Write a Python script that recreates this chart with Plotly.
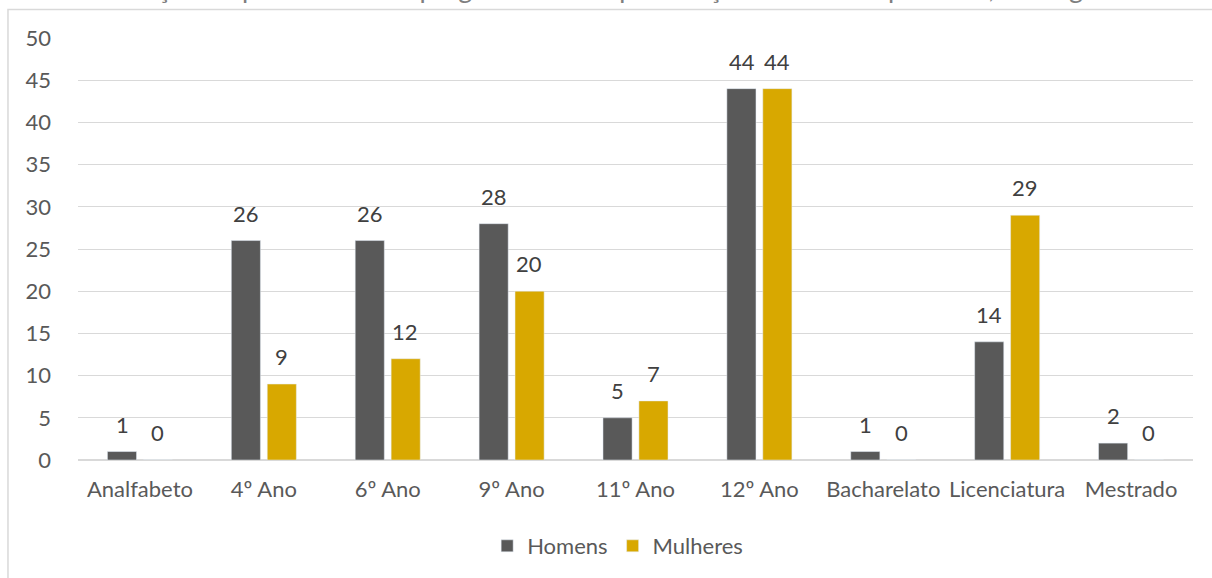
import plotly.graph_objects as go

categories = ["Analfabeto", "4º Ano", "6º Ano", "9º Ano", "11º Ano", "12º Ano",
              "Bacharelato", "Licenciatura", "Mestrado"]
homens = [1, 26, 26, 28, 5, 44, 1, 14, 2]
mulheres = [0, 9, 12, 20, 7, 44, 0, 29, 0]
y_ticks = [0, 5, 10, 15, 20, 25, 30, 35, 40, 45, 50]
title_text = "Distribuição de pessoas desempregadas com a qualificação académica por sexo, é a seguinte"

FONT = "Lato"
TXT = "#595959"
FS = 22

fig = go.Figure()
fig.add_trace(go.Bar(x=categories, y=homens, name="Homens", marker_color="#595959"))
fig.add_trace(go.Bar(x=categories, y=mulheres, name="Mulheres", marker_color="#D8A800"))

# data labels
for vals, shift in ((homens, -17.75), (mulheres, 17.75)):
    for c, v in zip(categories, vals):
        fig.add_annotation(x=c, y=v, xref="x", yref="y", text=str(v), showarrow=False,
                           xshift=shift, yshift=12, yanchor="bottom",
                           font=dict(size=FS, color="#404040", family=FONT))

fig.update_layout(
    width=1212, height=578,
    margin=dict(l=78, r=19, t=38, b=117),
    paper_bgcolor="white", plot_bgcolor="white",
    barmode="group", bargap=0.42, bargroupgap=0.19,
    font=dict(family=FONT, size=FS, color=TXT),
    showlegend=True,
    legend=dict(orientation="h", x=0.484, xanchor="center", y=-0.201, yanchor="middle",
                font=dict(size=FS, color=TXT), itemwidth=30, traceorder="normal"),
)
fig.update_yaxes(range=[0, 50], tickvals=y_ticks, showgrid=True, gridcolor="#D9D9D9",
                 gridwidth=1, zeroline=True, zerolinecolor="#D9D9D9", zerolinewidth=1.5,
                 showline=False, ticks="", ticklabelstandoff=26,
                 tickfont=dict(size=FS, color=TXT, family=FONT))
fig.update_xaxes(showgrid=False, showline=False, ticks="", ticklabelstandoff=14,
                 tickfont=dict(size=FS, color=TXT, family=FONT))

# chart frame (extends beyond bottom/right of the view)
fig.add_shape(type="rect", xref="paper", yref="paper", x0=-0.0628, x1=1.2,
              y0=-0.6, y1=1.0674, line=dict(color="#D9D9D9", width=1.5),
              fillcolor="rgba(0,0,0,0)", layer="below")

# partially cut document text at top
fig.add_annotation(text=title_text, xref="paper", yref="paper", x=0.468, y=1.0755,
                   xanchor="center", yanchor="bottom", showarrow=False,
                   font=dict(size=27, color="#7F7F7F", family=FONT))

fig.write_html("out.html", config={"displayModeBar": False},
               post_script="document.body.style.margin='0';")
